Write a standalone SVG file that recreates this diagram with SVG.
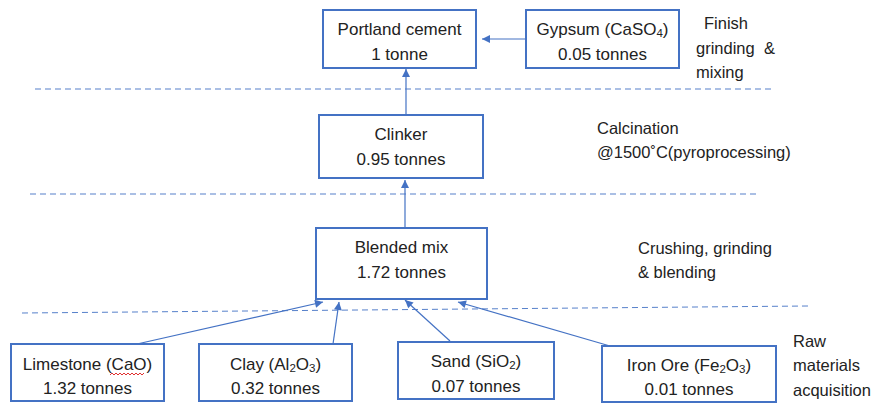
<svg xmlns="http://www.w3.org/2000/svg" width="880" height="406" viewBox="0 0 880 406">
  <defs>
    <marker id="arrow" viewBox="0 0 10 10" refX="10" refY="5" markerWidth="9" markerHeight="8" markerUnits="userSpaceOnUse" orient="auto">
      <path d="M0,0 L10,5 L0,10 z" fill="#4472C4"/>
    </marker>
    <style>
      .box { fill: #ffffff; stroke: #4472C4; stroke-width: 2; }
      .lbl { font-family: "Liberation Sans", Arial, sans-serif; font-size: 17px; fill: #222222; text-anchor: middle; }
      .side { font-family: "Liberation Sans", Arial, sans-serif; font-size: 16.5px; fill: #222222; }
      .sub { font-size: 11.5px; }
      .sep { stroke: #4472C4; stroke-width: 1; stroke-dasharray: 6 4; fill: none; opacity: 0.9; }
      .conn { stroke: #4472C4; stroke-width: 1.2; fill: none; marker-end: url(#arrow); }
    </style>
  </defs>

  <rect width="880" height="406" fill="#ffffff"/>

  <!-- stage separators -->
  <g id="separators">
    <line class="sep" x1="35" y1="89" x2="775" y2="89"/>
    <line class="sep" x1="30" y1="194" x2="760" y2="194"/>
    <line class="sep" x1="22" y1="313" x2="808" y2="306"/>
  </g>

  <!-- connectors -->
  <g id="connectors">
    <line class="conn" x1="526" y1="39" x2="482" y2="39"/>
    <line class="conn" x1="406" y1="115" x2="406" y2="69"/>
    <line class="conn" x1="405" y1="228" x2="405" y2="180"/>
    <line class="conn" x1="137" y1="344" x2="323" y2="302"/>
    <line class="conn" x1="333" y1="344" x2="339" y2="302"/>
    <line class="conn" x1="450" y1="341" x2="405" y2="300"/>
    <line class="conn" x1="610" y1="346" x2="458" y2="302"/>
  </g>

  <g id="portland">
    <rect class="box" x="323" y="10" width="153" height="58"/>
    <text class="lbl" x="399.5" y="35">Portland cement</text>
    <text class="lbl" x="399.5" y="60">1 tonne</text>
  </g>

  <g id="gypsum">
    <rect class="box" x="526" y="10" width="153" height="58"/>
    <text class="lbl" x="602.5" y="35">Gypsum (CaSO<tspan class="sub" dy="2">4</tspan><tspan dy="-2">)</tspan></text>
    <text class="lbl" x="602.5" y="60">0.05 tonnes</text>
  </g>

  <g id="clinker">
    <rect class="box" x="319" y="115" width="164" height="63"/>
    <text class="lbl" x="401" y="140">Clinker</text>
    <text class="lbl" x="401" y="165">0.95 tonnes</text>
  </g>

  <g id="blended">
    <rect class="box" x="316" y="228" width="171" height="71"/>
    <text class="lbl" x="401.5" y="253">Blended mix</text>
    <text class="lbl" x="401.5" y="278">1.72 tonnes</text>
  </g>

  <g id="limestone">
    <rect class="box" x="11" y="344" width="153" height="57"/>
    <text class="lbl" x="87.5" y="370">Limestone (CaO)</text>
    <text class="lbl" x="87.5" y="394">1.32 tonnes</text>
    <path d="M110,375 l2,-2 l2,2 l2,-2 l2,2 l2,-2 l2,2 l2,-2 l2,2 l2,-2 l2,2 l2,-2 l2,2 l2,-2 l2,2 l2,-2 l2,2 l2,-2" fill="none" stroke="#e03030" stroke-width="1"/>
  </g>

  <g id="clay">
    <rect class="box" x="199" y="344" width="153" height="57"/>
    <text class="lbl" x="275.5" y="370">Clay (Al<tspan class="sub" dy="2">2</tspan><tspan dy="-2">O</tspan><tspan class="sub" dy="2">3</tspan><tspan dy="-2">)</tspan></text>
    <text class="lbl" x="275.5" y="394">0.32 tonnes</text>
  </g>

  <g id="sand">
    <rect class="box" x="398" y="342" width="156" height="57"/>
    <text class="lbl" x="476" y="367">Sand (SiO<tspan class="sub" dy="2">2</tspan><tspan dy="-2">)</tspan></text>
    <text class="lbl" x="476" y="392">0.07 tonnes</text>
  </g>

  <g id="ironore">
    <rect class="box" x="602" y="346" width="174" height="56"/>
    <text class="lbl" x="689" y="371">Iron Ore (Fe<tspan class="sub" dy="2">2</tspan><tspan dy="-2">O</tspan><tspan class="sub" dy="2">3</tspan><tspan dy="-2">)</tspan></text>
    <text class="lbl" x="689" y="395">0.01 tonnes</text>
  </g>

  <!-- stage labels -->
  <g id="stage-labels">
    <text class="side" x="704" y="29">Finish</text>
    <text class="side" x="696" y="54" xml:space="preserve">grinding  &amp;</text>
    <text class="side" x="696" y="78">mixing</text>
    <text class="side" x="597" y="134">Calcination</text>
    <text class="side" x="597" y="158">@1500˚C(pyroprocessing)</text>
    <text class="side" x="638" y="254">Crushing, grinding</text>
    <text class="side" x="638" y="278">&amp; blending</text>
    <text class="side" x="793" y="347">Raw</text>
    <text class="side" x="793" y="371">materials</text>
    <text class="side" x="793" y="396">acquisition</text>
  </g>
</svg>
